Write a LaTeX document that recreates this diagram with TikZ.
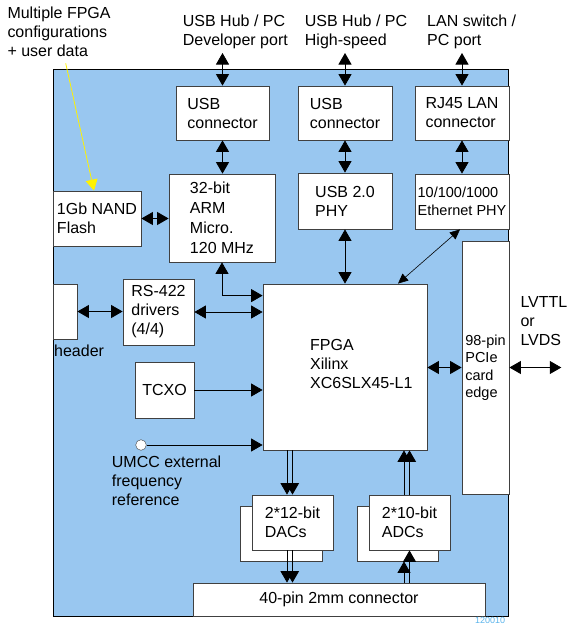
\documentclass[tikz,border=0pt]{standalone}
\usepackage{fontspec}
\setmainfont{Liberation Sans}
\usetikzlibrary{arrows.meta}

\definecolor{boardblue}{RGB}{153,199,240}
\definecolor{tagblue}{RGB}{90,180,235}
\newcommand{\fs}{\fontsize{16}{19}\selectfont}
\newcommand{\fsm}{\fontsize{14.5}{17.5}\selectfont}

\begin{document}
\begin{tikzpicture}[x=1pt, y=-1pt, every node/.style={font=\fs}, >={Triangle[length=11.5pt,width=13pt]}, box/.style={draw=black!75, line width=0.8pt, fill=white, inner sep=0pt, align=left}, lbl/.style={inner sep=0pt, align=left, anchor=north west}, link/.style={line width=0.8pt, black}]
	\useasboundingbox (0,0) rectangle (566,624);
	\draw[fill=boardblue, line width=0.8pt] (53.3,69) rectangle (508.7,616);
	% outside labels
	\node[lbl] (cfg) at (7.3,6.8) {Multiple FPGA\\configurations\\+ user data};
	\node[lbl] (devport) at (182.7,14.5) {USB Hub / PC\\Developer port};
	\node[lbl] (hsport) at (304.7,14.5) {USB Hub / PC\\High-speed};
	\node[lbl] (lanport) at (427,14.5) {LAN switch /\\PC port};
	\coordinate (devend) at (222.5,53);
	\coordinate (hsend) at (345,53);
	\coordinate (lanend) at (462,53);
	\coordinate (cfgend) at (65.7,63.3);
	\coordinate (lvend) at (561.3,367.5);
	% board blocks
	\node[box, minimum width=93, minimum height=54] (usbA) at (222.5,113) {USB\\connector};
	\node[box, minimum width=94, minimum height=54] (usbB) at (345,113) {USB\\connector};
	\node[box, minimum width=94, minimum height=54] (rj45) at (462,113) {RJ45 LAN\\connector};
	\node[box, minimum width=106, minimum height=88, font=\fontsize{16}{20}\selectfont] (arm) at (222,218) {32-bit\\ARM\\Micro.\\120 MHz};
	\node[box, minimum width=94, minimum height=56] (usbphy) at (345,201) {USB 2.0\\PHY};
	\node[box, minimum width=94, minimum height=55, font=\fsm] (ethphy) at (462,201.5) {10/100/1000\\Ethernet PHY};
	\node[box, minimum width=88, minimum height=55] (nand) at (97,218.5) {1Gb NAND\\Flash};
	\node[box, minimum width=24, minimum height=55] (header) at (65,311.5) {};
	\node[lbl] (headerlbl) at (54,345.2) {header};
	\node[box, minimum width=71, minimum height=66] (rs422) at (158.5,312) {RS-422\\drivers\\(4/4)};
	\node[box, minimum width=59, minimum height=56] (tcxo) at (164.5,390) {TCXO};
	\node[box, minimum width=164, minimum height=166] (fpga) at (345,367) {};
	\node[lbl] (fpgalbl) at (310,339.2) {FPGA\\Xilinx\\XC6SLX45-L1};
	\node[box, minimum width=47, minimum height=253, font=\fsm] (pcie) at (485.5,367.5) {98-pin\\PCIe\\card\\edge};
	\node[box, minimum width=82, minimum height=55] (dacback) at (281,533.5) {};
	\node[box, minimum width=81, minimum height=55] (dac) at (292.5,522.5) {2*12-bit\\DACs};
	\node[box, minimum width=81, minimum height=55] (adcback) at (397.5,533.5) {};
	\node[box, minimum width=81, minimum height=55] (adc) at (409.5,522.5) {2*10-bit\\ADCs};
	\node[box, minimum width=292, minimum height=33] (conn) at (339,599.5) {40-pin 2mm connector};
	\node[draw=black!75, fill=white, circle, minimum size=10.6, inner sep=0pt] (umcc) at (141,445) {};
	\node[lbl] (umcclbl) at (111.7,455.2) {UMCC external\\frequency\\reference};
	\node[lbl] (lvlbl) at (520.3,295.8) {LVTTL\\or\\LVDS};
	\node[lbl, font=\fontsize{9}{10}\selectfont, text=tagblue] (tag) at (475,617) {120010};
	% connections
	\draw[link, <->] (devend) -- (usbA.north);
	\draw[link, <->] (usbA.south) -- (usbA.south |- arm.north);
	\draw[link, <->] (hsend) -- (usbB.north);
	\draw[link, <->] (usbB.south) -- (usbphy.north);
	\draw[link, <->] (lanend) -- (rj45.north);
	\draw[link, <->] (rj45.south) -- (ethphy.north);
	\draw[link, <->] (usbphy.south) -- (fpga.north);
	\draw[link, <->, >={Triangle[length=10pt,width=9pt]}, line width=0.6pt] ([xshift=-2pt]ethphy.south) -- ([xshift=53pt]fpga.north);
	\draw[link, <->] (nand.east) -- (nand.east -| arm.west);
	\draw[link, <->] (arm.south) |- ([yshift=-12pt]fpga.north west);
	\draw[link, <->] (header.east) -- (header.east -| rs422.west);
	\draw[link, <->] (rs422.east) -- (rs422.east -| fpga.west);
	\draw[link, ->] (tcxo.east) -- (tcxo.east -| fpga.west);
	\draw[link, ->] (umcc.east) -- (umcc.east -| fpga.west);
	\draw[link, <->] (fpga.east |- pcie.west) -- (pcie.west);
	\draw[link, <->] (pcie.east) -- (lvend);
	\draw[yellow, line width=0.8pt, -{Triangle[length=11pt,width=12pt]}] (cfgend) -- ([xshift=-3pt]nand.north);
	\foreach \dx in {-5.5,0}{
		\draw[link, ->] ([xshift=\dx pt]dac.north |- fpga.south) -- ([xshift=\dx pt]dac.north);
		\draw[link, ->] ([xshift=\dx pt]dac.south) -- ([xshift=\dx pt]dac.south |- conn.north);
		\draw[link, ->] ([xshift=\dx pt]adc.north) -- ([xshift=\dx pt]adc.north |- fpga.south);
	}
	\draw[link, ->] ([xshift=-5.5pt]adc.south |- conn.north) -- ([xshift=-5.5pt]adc.south |- adcback.south);
	\draw[link, ->] (adc.south |- conn.north) -- (adc.south);
\end{tikzpicture}
\end{document}
